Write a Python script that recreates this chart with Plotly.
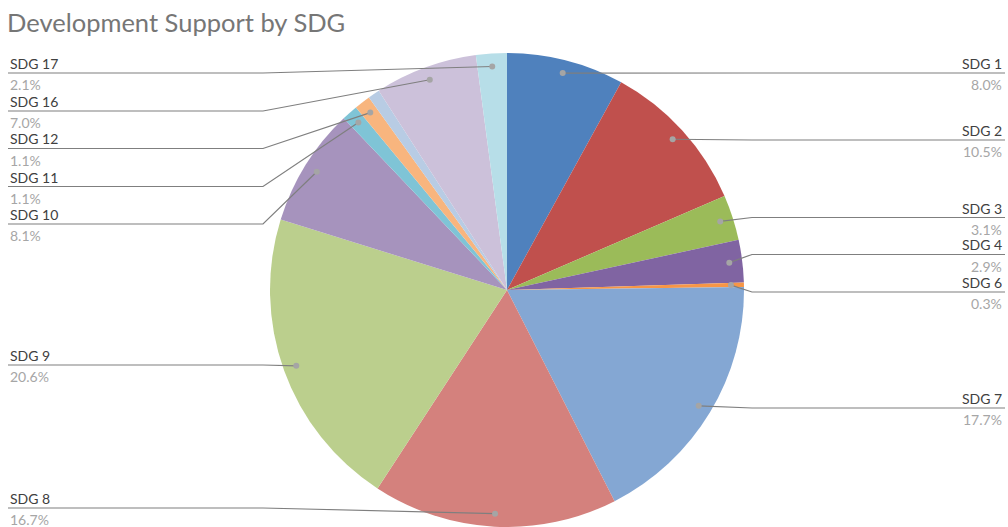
import numpy as np
import plotly.graph_objects as go

# ---- data ----
categories = ["SDG 1", "SDG 2", "SDG 3", "SDG 4", "SDG 6", "SDG 7", "SDG 8",
              "SDG 9", "SDG 10", "SDG 11", "SDG 12", "SDG 13", "SDG 16", "SDG 17"]
shares = [8.0, 10.5, 3.1, 2.9, 0.3, 17.7, 16.7, 20.6, 8.1, 1.1, 1.1, 0.8, 7.0, 2.1]
labelled = [True] * 11 + [False] + [True, True]
colors = ["#4F81BD", "#C0504D", "#9BBB59", "#8064A2", "#F79646", "#84A7D3",
          "#D4817D", "#BBCF8D", "#A693BD", "#7FC4D6", "#F8B57E", "#B8CCE4",
          "#CCC1DA", "#B7DEE8"]

# ---- layout (pixels) ----
W, H = 1008, 527
CX, CY, R = 507, 290, 237
DOT_R = R * 0.945
label_line_y = {"SDG 1": 73, "SDG 2": 140, "SDG 3": 217.5, "SDG 4": 254.5,
                "SDG 6": 292, "SDG 7": 408, "SDG 8": 508, "SDG 9": 365,
                "SDG 10": 224, "SDG 11": 186.5, "SDG 12": 148.5,
                "SDG 16": 111, "SDG 17": 73}
LEFT_X, LEFT_ELBOW, RIGHT_X, RIGHT_ELBOW = 8, 263, 1005, 752
FONT = "Lato"


def px(x):
    return x / W


def py(y):
    return 1 - y / H


fig = go.Figure()
fig.add_trace(go.Pie(
    labels=categories, values=shares, sort=False, direction="clockwise",
    rotation=0, textinfo="none", hoverinfo="label+percent",
    marker=dict(colors=colors, line=dict(width=0)),
    domain=dict(x=[px(CX - R), px(CX + R)], y=[py(CY + R), py(CY - R)]),
    showlegend=False,
))

vals = np.array(shares, dtype=float)
mid = (np.cumsum(vals) - vals / 2) / vals.sum()
theta = 2 * np.pi * mid
dot_x = CX + DOT_R * np.sin(theta)
dot_y = CY - DOT_R * np.cos(theta)

shapes = []
annotations = []
total = vals.sum()
for i, cat in enumerate(categories):
    if not labelled[i]:
        continue
    ly = label_line_y[cat]
    right = mid[i] < 0.5
    if right:
        ex, end = RIGHT_ELBOW, RIGHT_X
    else:
        ex, end = LEFT_ELBOW, LEFT_X
    path = (f"M {px(dot_x[i])} {py(dot_y[i])} L {px(ex)} {py(ly)} "
            f"L {px(end)} {py(ly)}")
    shapes.append(dict(type="path", path=path, xref="paper", yref="paper",
                       line=dict(color="#7F7F7F", width=1.2), layer="above"))
    rr = 3
    shapes.append(dict(type="circle", xref="paper", yref="paper",
                       x0=px(dot_x[i] - rr), x1=px(dot_x[i] + rr),
                       y0=py(dot_y[i] + rr), y1=py(dot_y[i] - rr),
                       fillcolor="#A5A5A5", line=dict(width=0), layer="above"))
    anchor = "right" if right else "left"
    tx = end - 1 if right else end
    annotations.append(dict(x=px(tx), y=py(ly - 9.5), xref="paper", yref="paper",
                            text=cat, showarrow=False, xanchor=anchor,
                            yanchor="middle",
                            font=dict(family=FONT, size=14, color="#404040")))
    annotations.append(dict(x=px(tx), y=py(ly + 11.5), xref="paper", yref="paper",
                            text=f"{100 * vals[i] / total:.1f}%", showarrow=False,
                            xanchor=anchor, yanchor="middle",
                            font=dict(family=FONT, size=14, color="#A6A6A6")))

annotations.append(dict(x=px(5), y=py(22), xref="paper", yref="paper",
                        text="Development Support by SDG", showarrow=False,
                        xanchor="left", yanchor="middle",
                        font=dict(family=FONT, size=25.5, color="#767676")))

fig.update_layout(
    width=W, height=H, margin=dict(l=0, r=0, t=0, b=0),
    paper_bgcolor="white", plot_bgcolor="white",
    shapes=shapes, annotations=annotations,
)
fig.write_html("out.html", config={"displayModeBar": False},
               post_script="document.body.style.margin='0';document.body.style.overflow='hidden';")
